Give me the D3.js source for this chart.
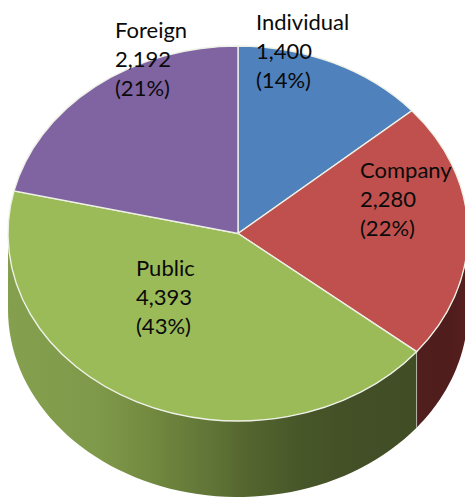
<!DOCTYPE html>
<html>
<head>
<meta charset="utf-8">
<script src="https://cdn.jsdelivr.net/npm/d3@7"></script>
<style>
  html, body { margin: 0; padding: 0; background: #fff; overflow: hidden; }
  text { font-family: Lato, "Open Sans", sans-serif; font-size: 22px; fill: #0a0a0a; }
</style>
</head>
<body>
<svg id="chart" width="465" height="497"></svg>
<script>
"use strict";

const categories = ["Individual", "Company", "Public", "Foreign"];
const values = [1400, 2280, 4393, 2192];

const topColors = ["#4f81bd", "#c0504d", "#9bbb59", "#8064a2"];
// shade stops for the visible side walls
const wallStops = {
    Company: [[0, "#4f1e1d"], [0.6, "#4f1d1c"], [1, "#561f1e"]],
    Public: [[0, "#84a04e"], [0.22, "#7f994a"], [0.35, "#72893f"], [0.52, "#5d7135"],
             [0.57, "#566730"], [0.72, "#475629"], [0.85, "#434f26"], [1, "#414d24"]]
};

// label anchor for the first line of each slice
const labelAt = {
    Individual: [256, 30],
    Company: [360, 178],
    Public: [136, 276],
    Foreign: [115, 38]
};
const lineGap = 29;

const svg = d3.select("#chart");
const cx = 238, cy = 233.5, rx = 230, ry = 187.5, depth = 76;

const pie = d3.pie().sort(null).value(d => d.value);
const slices = pie(categories.map((name, i) => ({name, value: values[i], color: topColors[i]})));
const total = d3.sum(values);

const defs = svg.append("defs");
const px = a => cx + rx * Math.sin(a);
const py = a => cy - ry * Math.cos(a);

// side walls: the part of each slice that faces the viewer (pi/2 .. 3pi/2)
const wallSlices = slices
    .map(d => ({...d, a0: Math.max(d.startAngle, Math.PI / 2), a1: Math.min(d.endAngle, 3 * Math.PI / 2)}))
    .filter(d => d.a1 > d.a0);

wallSlices.forEach(d => {
    const x0 = px(d.a0), x1 = px(d.a1);
    const grad = defs.append("linearGradient")
        .attr("id", "wall-" + d.data.name)
        .attr("gradientUnits", "userSpaceOnUse")
        .attr("x1", Math.min(x0, x1)).attr("x2", Math.max(x0, x1))
        .attr("y1", 0).attr("y2", 0);
    wallStops[d.data.name].forEach(s => {
        grad.append("stop").attr("offset", s[0]).attr("stop-color", s[1]);
    });
});

const wallPath = d => {
    const steps = d3.range(0, 61).map(i => d.a0 + (d.a1 - d.a0) * i / 60);
    const top = steps.map(a => [px(a), py(a)]);
    const bottom = steps.slice().reverse().map(a => [px(a), py(a) + depth]);
    return d3.line()(top.concat(bottom)) + "Z";
};

svg.append("g").selectAll("path")
    .data(wallSlices)
    .enter().append("path")
    .attr("d", wallPath)
    .attr("fill", d => `url(#wall-${d.data.name})`);

// edge between the two walls
const seam = slices[1].endAngle;
svg.append("line")
    .attr("x1", px(seam)).attr("x2", px(seam))
    .attr("y1", py(seam)).attr("y2", py(seam) + depth)
    .attr("stroke", "#b5b5a8").attr("stroke-width", 1);

// top face, a flat pie squashed into an ellipse
const arc = d3.arc().innerRadius(0).outerRadius(rx);
svg.append("g")
    .attr("transform", `translate(${cx},${cy}) scale(1,${ry / rx})`)
    .selectAll("path")
    .data(slices)
    .enter().append("path")
    .attr("d", arc)
    .attr("fill", d => d.data.color)
    .attr("stroke", "#eef1e6")
    .attr("stroke-width", 1.4)
    .attr("vector-effect", "non-scaling-stroke");

const fmt = d3.format(",");
const labels = svg.append("g").selectAll("text")
    .data(slices)
    .enter().append("text")
    .attr("x", d => labelAt[d.data.name][0])
    .attr("y", d => labelAt[d.data.name][1]);

labels.selectAll("tspan")
    .data(d => [d.data.name, fmt(d.data.value), `(${Math.round(d.data.value / total * 100)}%)`])
    .enter().append("tspan")
    .attr("x", function () { return this.parentNode.getAttribute("x"); })
    .attr("dy", (d, i) => i ? lineGap : 0)
    .text(d => d);
</script>
</body>
</html>
